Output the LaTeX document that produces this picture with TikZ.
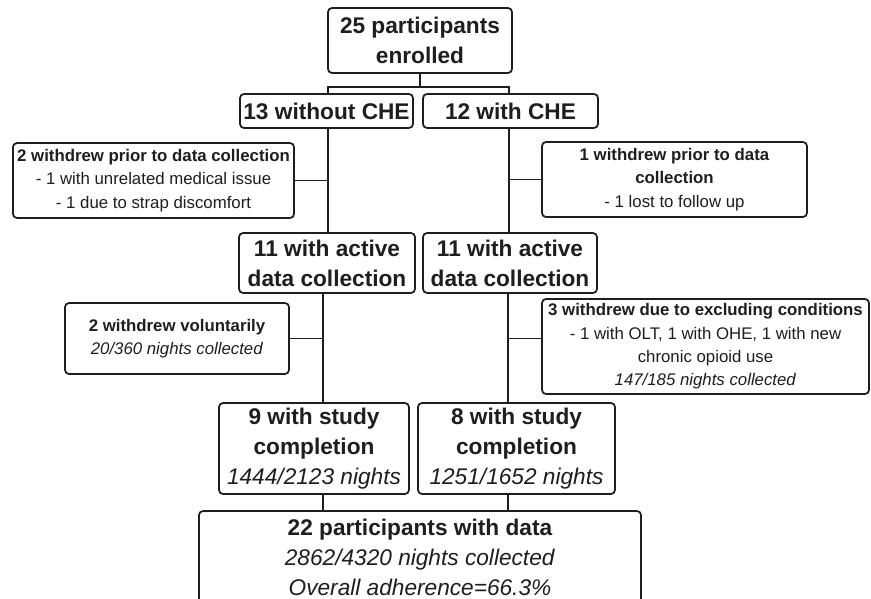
\documentclass[tikz,border=0pt]{standalone}
\usepackage{fontspec}
\setmainfont{Liberation Sans}
\usetikzlibrary{positioning}
\definecolor{inkgray}{HTML}{1E1E1E}
\tikzset{
  box/.style={draw=inkgray, text=inkgray, line width=1.3pt, rounded corners=3pt, fill=white, align=center, inner sep=0pt},
  bigtext/.style={font=\fontsize{17}{22.5}\selectfont},
  smalltext/.style={font=\fontsize{12.6}{17.5}\selectfont},
  link/.style={draw=inkgray, line width=1.3pt}
}
\begin{document}
\begin{tikzpicture}[x=0.75pt,y=-0.75pt]
	   \path[use as bounding box, clip] (0,0) rectangle (871,599);
	   % top
	   \node [box,bigtext,minimum width=138pt,minimum height=48.75pt] (enr) at (420,40.5) {\textbf{25 participants}\\\textbf{enrolled}};
	   \node [box,bigtext,minimum width=129.75pt,minimum height=25.5pt] (noche) at (326.5,111) {\textbf{13 without CHE}};
	   \node [box,bigtext,minimum width=131.25pt,minimum height=25.5pt] (che) at (510.5,111) {\textbf{12 with CHE}};
	   % first withdrawals
	   \node [box,smalltext,minimum width=210.75pt,minimum height=56.25pt] (wdl) at (153.5,180.5) {\textbf{2 withdrew prior to data collection}\\- 1 with unrelated medical issue\\- 1 due to strap discomfort};
	   \node [box,smalltext,minimum width=198.75pt,minimum height=56.25pt] (wdr) at (674.5,179.5) {\textbf{1 withdrew prior to data}\\\textbf{collection}\\- 1 lost to follow up};
	   \node [box,bigtext,minimum width=132pt,minimum height=45pt] (actl) at (327,263) {\textbf{11 with active}\\\textbf{data collection}};
	   \node [box,bigtext,minimum width=130.5pt,minimum height=45pt] (actr) at (510,263) {\textbf{11 with active}\\\textbf{data collection}};
	   % second withdrawals
	   \node [box,smalltext,minimum width=168pt,minimum height=53.25pt] (voll) at (177,338.5) {\textbf{2 withdrew voluntarily}\\\textit{20/360 nights collected}};
	   \node [box,smalltext,minimum width=245.25pt,minimum height=71.25pt] (excr) at (705.5,346.5) {\textbf{3 withdrew due to excluding conditions}\\- 1 with OLT, 1 with OHE, 1 with new\\chronic opioid use\\\textit{147/185 nights collected}};
	   \node [box,bigtext,minimum width=142.5pt,minimum height=68.25pt] (compl) at (314,448.5) {\textbf{9 with study}\\\textbf{completion}\\\textit{1444/2123 nights}};
	   \node [box,bigtext,minimum width=147.75pt,minimum height=68.25pt] (compr) at (516.5,448.5) {\textbf{8 with study}\\\textbf{completion}\\\textit{1251/1652 nights}};
	   % total
	   \node [box,bigtext,minimum width=331.5pt,minimum height=69pt] (total) at (420,557) {\textbf{22 participants with data}\\\textit{2862/4320 nights collected}\\\textit{Overall adherence=66.3\%}};
	   % connectors
	   \coordinate (fork) at (420,87);
	   \coordinate (lx) at (328,0);
	   \coordinate (rx) at (509,0);
	   \coordinate (lx2) at (323,0);
	   \coordinate (rx2) at (508,0);
	   \draw [link] (enr) -- (fork);
	   \draw [link] (noche.north -| lx) |- (fork) -| (che.north -| rx);
	   \draw [link] (noche.south -| lx) -- (actl.north -| lx);
	   \draw [link] (wdl.east) -- (wdl.east -| lx);
	   \draw [link] (che.south -| rx) -- (actr.north -| rx);
	   \draw [link] (wdr.west) -- (wdr.west -| rx);
	   \draw [link] (actl.south -| lx2) -- (compl.north -| lx2);
	   \draw [link] (voll.east) -- (voll.east -| lx2);
	   \draw [link] (actr.south -| rx2) -- (compr.north -| rx2);
	   \draw [link] ([yshift=6pt]excr.west) -- ([yshift=6pt]excr.west -| rx2);
	   \draw [link] (compl.south -| lx2) -- (total.north -| lx2);
	   \draw [link] (compr.south -| rx2) -- (total.north -| rx2);
\end{tikzpicture}
\end{document}
